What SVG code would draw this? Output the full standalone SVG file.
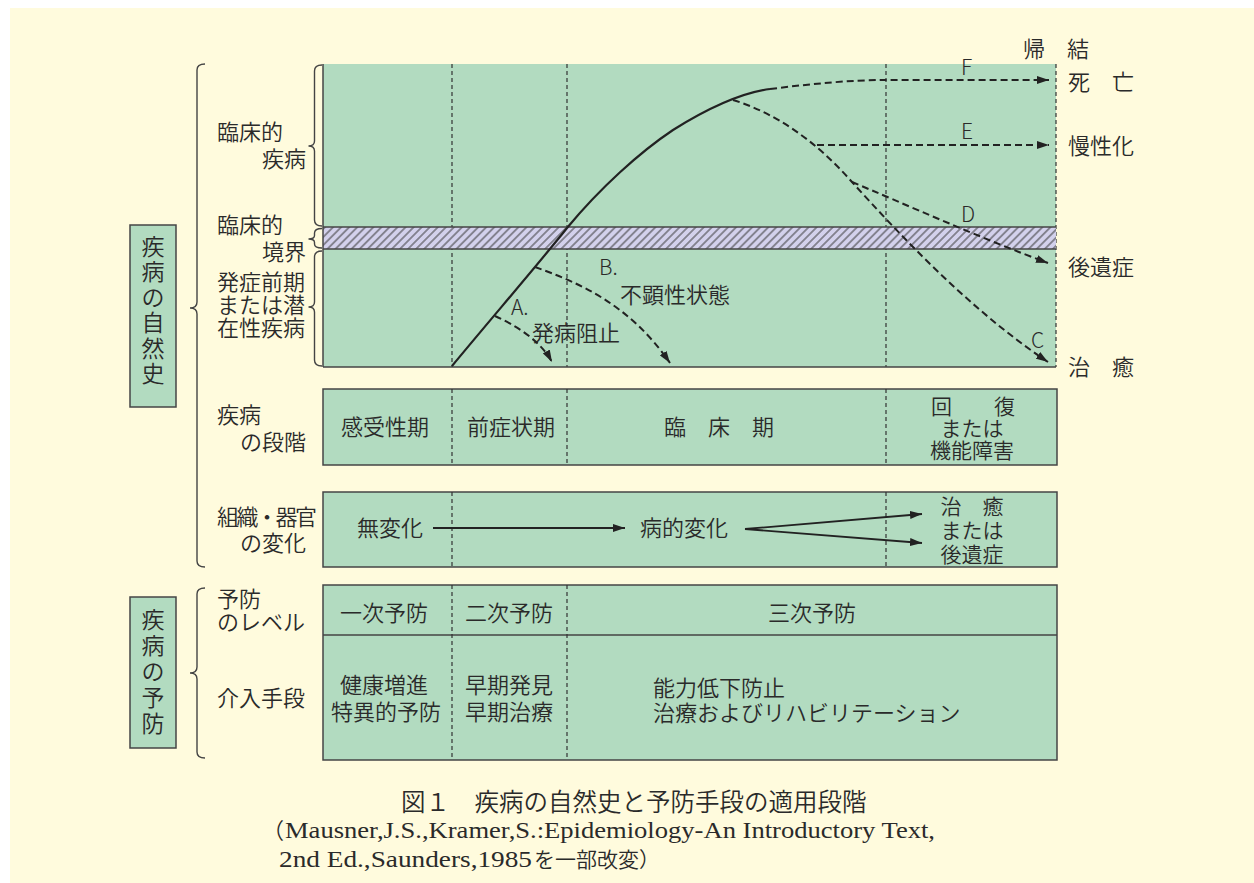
<svg xmlns="http://www.w3.org/2000/svg" width="1254" height="883" viewBox="0 0 1254 883">
<style>
.t{font-family:"Noto Sans CJK JP","Noto Sans CJK SC",sans-serif;font-size:22px;font-weight:350;fill:#2a2a2a}
.s{font-size:23px}
.k{font-size:21px}
.m{text-anchor:middle}
.e{text-anchor:end}
.lt{font-family:"Noto Sans CJK JP",sans-serif;font-size:21px;font-weight:300;fill:#2a2a2a}
.sf{font-family:"Liberation Serif",serif;font-size:24px;fill:#2a2a2a}
.bx{fill:#b2dbc0;stroke:#454545;stroke-width:1.5}
.vd{stroke:#333;stroke-width:1.2;stroke-dasharray:4 3;fill:none}
.br{fill:none;stroke:#444;stroke-width:1.4}
.sl{fill:none;stroke:#222;stroke-width:2.2}
.dl{fill:none;stroke:#222;stroke-width:2;stroke-dasharray:7 4}
.ar{fill:none;stroke:#222;stroke-width:1.8}
.edge{stroke:#454545;stroke-width:1.5;fill:none}
</style>
<defs>
<pattern id="hatch" width="5.7" height="10" patternUnits="userSpaceOnUse" patternTransform="rotate(45)">
<rect width="5.7" height="10" fill="#d3d1ec"/>
<line x1="2.85" y1="0" x2="2.85" y2="10" stroke="#3a3a3a" stroke-width="1"/>
</pattern>
<marker id="ah" markerUnits="userSpaceOnUse" markerWidth="12" markerHeight="8" viewBox="0 0 12 8" refX="12" refY="4" orient="auto">
<path d="M0,0 L12,4 L0,8 z" fill="#222"/>
</marker>
</defs>
<rect width="1254" height="883" fill="#ffffff"/>
<rect x="10" y="8" width="1244" height="875" fill="#fffbdd"/>

<g id="sidebar-natural-history">
<rect x="130" y="225" width="46" height="182" class="bx"/>
<text class="t s m"><tspan x="153" y="255">疾</tspan><tspan x="153" y="280">病</tspan><tspan x="153" y="306">の</tspan><tspan x="153" y="331">自</tspan><tspan x="153" y="357">然</tspan><tspan x="153" y="382">史</tspan></text>
</g>
<g id="sidebar-prevention">
<rect x="130" y="597" width="46" height="151" class="bx"/>
<text class="t s m"><tspan x="153" y="628">疾</tspan><tspan x="153" y="654">病</tspan><tspan x="153" y="680">の</tspan><tspan x="153" y="706">予</tspan><tspan x="153" y="732">防</tspan></text>
</g>

<g id="braces">
<path class="br" d="M205,64 Q197,64 197,70 L197,302 Q197,308 190,308 Q197,308 197,314 L197,561 Q197,567 205,567"/>
<path class="br" d="M205,588 Q197,588 197,594 L197,667 Q197,673 190,673 Q197,673 197,679 L197,752 Q197,758 205,758"/>
<path class="br" d="M322,65 Q314.5,65 314.5,71 L314.5,141 Q314.5,146 308.5,146 Q314.5,146 314.5,151 L314.5,220 Q314.5,226 322,226"/>
<path class="br" d="M322,228.5 Q314.5,228.5 314.5,233 L314.5,235.5 Q314.5,239 308.5,239 Q314.5,239 314.5,242.5 L314.5,244 Q314.5,248 322,248"/>
<path class="br" d="M322,251 Q314.5,251 314.5,257 L314.5,302 Q314.5,307 308.5,307 Q314.5,307 314.5,312 L314.5,360 Q314.5,366 322,366"/>
</g>

<g id="left-labels">
<text class="t" x="217" y="140">臨床的</text>
<text class="t e" x="306" y="167">疾病</text>
<text class="t" x="217" y="233">臨床的</text>
<text class="t e" x="306" y="260">境界</text>
<text class="t" x="217" y="290">発症前期</text>
<text class="t" x="217" y="313">または潜</text>
<text class="t" x="217" y="336">在性疾病</text>
<text class="t" x="217" y="423">疾病</text>
<text class="t e" x="306" y="450">の段階</text>
<text class="t" x="217" y="525" textLength="100" lengthAdjust="spacing">組織・器官</text>
<text class="t e" x="306" y="551">の変化</text>
<text class="t" x="217" y="607">予防</text>
<text class="t" x="217" y="630">のレベル</text>
<text class="t" x="217" y="706">介入手段</text>
</g>

<g id="chart">
<rect x="323" y="64" width="733" height="303" fill="#b2dbc0"/>
<line class="vd" x1="452" y1="64" x2="452" y2="367"/>
<line class="vd" x1="567" y1="64" x2="567" y2="367"/>
<line class="vd" x1="886" y1="64" x2="886" y2="367"/>
<line class="vd" x1="1056" y1="64" x2="1056" y2="367"/>
<rect x="323" y="227" width="733" height="22" fill="url(#hatch)"/>
<line class="edge" x1="323" y1="227" x2="1056" y2="227"/>
<line class="edge" x1="323" y1="249" x2="1056" y2="249"/>
<line class="edge" x1="323" y1="64" x2="323" y2="367"/>
<line class="edge" x1="323" y1="367" x2="1056" y2="367"/>
</g>

<g id="chart-labels">
<text class="lt" x="961" y="75">F</text>
<text class="lt" x="961" y="139">E</text>
<text class="lt" x="961" y="222">D</text>
<text class="lt" x="1031" y="348">C</text>
<text class="lt" x="599" y="275">B.</text>
<text class="t" x="620" y="303">不顕性状態</text>
<text class="lt" x="511" y="315">A.</text>
<text class="t" x="532" y="341">発病阻止</text>
</g>

<g id="outcome-labels">
<text class="t" x="1023" y="57">帰　結</text>
<text class="t" x="1068" y="90">死　亡</text>
<text class="t" x="1068" y="154">慢性化</text>
<text class="t" x="1068" y="275">後遺症</text>
<text class="t" x="1068" y="375">治　癒</text>
</g>

<g id="stage-row">
<rect x="323" y="389" width="734" height="76" class="bx"/>
<line class="vd" x1="452" y1="389" x2="452" y2="465"/>
<line class="vd" x1="567" y1="389" x2="567" y2="465"/>
<line class="vd" x1="886" y1="389" x2="886" y2="465"/>
<text class="t m" x="385" y="435">感受性期</text>
<text class="t m" x="511" y="435">前症状期</text>
<text class="t m" x="719" y="435">臨　床　期</text>
<text class="t k m" x="973" y="414">回　　復</text>
<text class="t k m" x="972" y="436">または</text>
<text class="t k m" x="972" y="458">機能障害</text>
</g>

<g id="tissue-row">
<rect x="323" y="492" width="734" height="75" class="bx"/>
<line class="vd" x1="452" y1="492" x2="452" y2="567"/>
<line class="vd" x1="886" y1="492" x2="886" y2="567"/>
<text class="t m" x="390" y="536">無変化</text>
<text class="t m" x="684" y="536">病的変化</text>
<text class="t k m" x="972" y="514">治　癒</text>
<text class="t k m" x="972" y="538">または</text>
<text class="t k m" x="972" y="562">後遺症</text>
</g>

<g id="prevention-table">
<rect x="323" y="585" width="734" height="175" class="bx"/>
<line class="edge" x1="323" y1="635" x2="1057" y2="635"/>
<line class="vd" x1="452" y1="585" x2="452" y2="760"/>
<line class="vd" x1="567" y1="585" x2="567" y2="760"/>
<text class="t m" x="384" y="621">一次予防</text>
<text class="t m" x="509" y="621">二次予防</text>
<text class="t m" x="812" y="621">三次予防</text>
<text class="t m" x="384" y="693">健康増進</text>
<text class="t m" x="386" y="720">特異的予防</text>
<text class="t m" x="509" y="693">早期発見</text>
<text class="t m" x="509" y="720">早期治療</text>
<text class="t" x="653" y="696">能力低下防止</text>
<text class="t" x="653" y="721">治療およびリハビリテーション</text>
</g>

<g id="connectors">
<path class="sl" d="M452,366 C490,320 540,262 567,228 C600,188 640,152 673,130 C705,110 740,93 770,89"/>
<path class="dl" d="M770,89 C810,84 850,80 886,80 L1049,80" marker-end="url(#ah)"/>
<path class="dl" d="M733,100 C775,113 815,140 852,182 C900,235 970,310 1048,362" marker-end="url(#ah)"/>
<path class="dl" d="M817,145 L1049,145" marker-end="url(#ah)"/>
<path class="dl" d="M852,182 C900,202 985,240 1048,263" marker-end="url(#ah)"/>
<path class="dl" d="M495,316 C515,325 540,340 552,362" marker-end="url(#ah)"/>
<path class="dl" d="M535,267 C580,283 630,305 670,363" marker-end="url(#ah)"/>
<path class="ar" d="M433,528 L625,528" marker-end="url(#ah)"/>
<path class="ar" d="M745,529 L922,514" marker-end="url(#ah)"/>
<path class="ar" d="M745,529 L922,543" marker-end="url(#ah)"/>
</g>

<g id="caption">
<text class="t" x="401" y="811" style="font-size:24.5px">図１　疾病の自然史と予防手段の適用段階</text>
<text class="t" x="262" y="838">（</text>
<text class="sf" x="285" y="838" textLength="650" lengthAdjust="spacingAndGlyphs">Mausner,J.S.,Kramer,S.:Epidemiology-An Introductory Text,</text>
<text class="sf" x="279" y="867" textLength="253" lengthAdjust="spacingAndGlyphs">2nd Ed.,Saunders,1985</text>
<text class="t" x="534" y="867" style="font-size:21px">を一部改変）</text>
</g>
</svg>
